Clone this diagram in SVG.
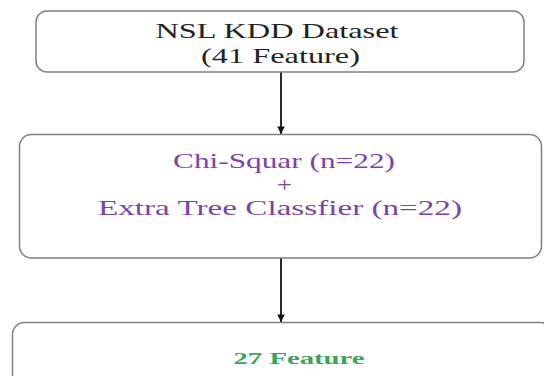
<svg xmlns="http://www.w3.org/2000/svg" width="544" height="376" viewBox="0 0 544 376">
<style>
.box{fill:#fff;stroke:#808080;stroke-width:1.5}
.t{font-family:"Liberation Serif","Times New Roman",serif;text-anchor:middle;font-size:21px}
.blk{fill:#222}
.pur{fill:#7a44a6}
.grn{fill:#3aa55c;font-weight:bold;font-size:17px}
.conn{stroke:#111;stroke-width:1.8;fill:none}
</style>
<defs>
<marker id="ah" viewBox="0 0 10 10" refX="10" refY="5" markerWidth="4.2" markerHeight="4.2" markerUnits="strokeWidth" orient="auto">
<path d="M0,0 L10,5 L0,10 z" fill="#111"/>
</marker>
</defs>
<rect width="544" height="376" fill="#fff"/>
<g id="connectors">
<line class="conn" x1="281" y1="72" x2="281" y2="134" marker-end="url(#ah)"/>
<line class="conn" x1="281" y1="258" x2="281" y2="322" marker-end="url(#ah)"/>
</g>
<g id="node-dataset">
<rect class="box" x="36" y="11" width="488" height="61" rx="11"/>
<text class="t blk" x="277" y="38" textLength="243" lengthAdjust="spacingAndGlyphs">NSL KDD Dataset</text>
<text class="t blk" x="280.5" y="63" textLength="159" lengthAdjust="spacingAndGlyphs">(41 Feature)</text>
</g>
<g id="node-selection">
<rect class="box" x="19.5" y="134.5" width="522" height="123.5" rx="12"/>
<text class="t pur" x="284" y="168" textLength="222" lengthAdjust="spacingAndGlyphs">Chi-Squar (n=22)</text>
<text class="t pur" x="284.5" y="192" font-size="21" textLength="15" lengthAdjust="spacingAndGlyphs">+</text>
<text class="t pur" x="280" y="215" textLength="364" lengthAdjust="spacingAndGlyphs">Extra Tree Classfier (n=22)</text>
</g>
<g id="node-result">
<rect class="box" x="12.5" y="322.5" width="540" height="80" rx="12"/>
<text class="t grn" x="299" y="364" textLength="131" lengthAdjust="spacingAndGlyphs">27 Feature</text>
</g>
</svg>
